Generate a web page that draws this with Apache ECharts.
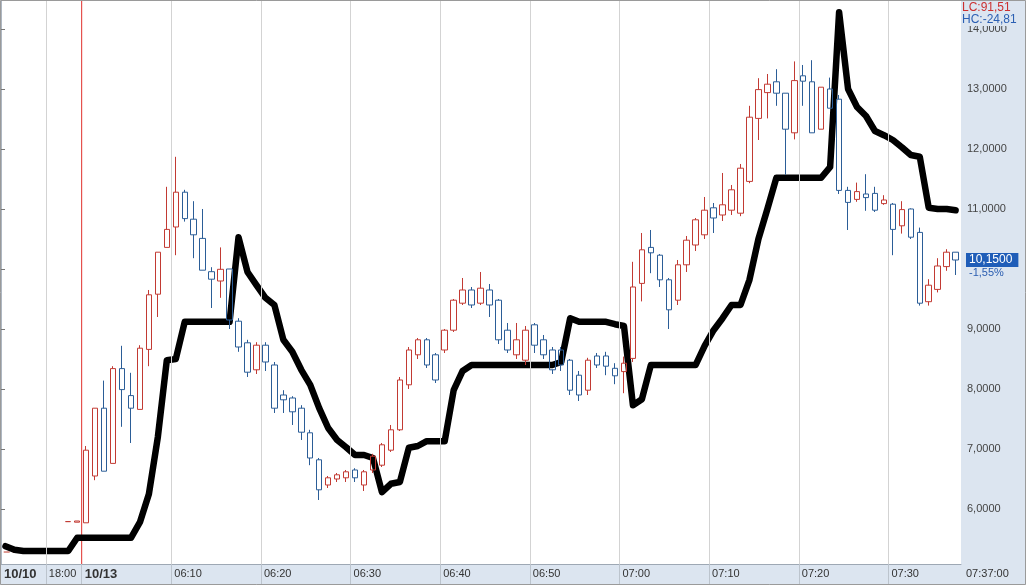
<!DOCTYPE html>
<html><head><meta charset="utf-8">
<script src="https://cdn.jsdelivr.net/npm/echarts@6/dist/echarts.min.js"></script>
<style>html,body{margin:0;padding:0;background:#fff}#c{width:1026px;height:585px}</style>
</head><body><div id="c"></div>
<script>
// ---- data ----
const xLabelSlots = [0, 5, 9, 19, 29, 39, 49, 59, 69, 79, 89, 99];
const xLabels = ['10/10', '18:00', '10/13', '06:10', '06:20', '06:30', '06:40', '06:50', '07:00', '07:10', '07:20', '07:30'];
const dateLabels = ['10/10', '10/13'];
const gridSlots = [5, 19, 29, 39, 49, 59, 69, 79, 89, 99];
const sessionBreakSlot = 9;
const yTicks = [6, 7, 8, 9, 10, 11, 12, 13, 14];
const yLabelValues = [6, 7, 8, 9, 11, 12, 13, 14];
const prevClose = 5.283;
const prevCloseFrom = 0.3, prevCloseTo = 7.0;
const lastPrice = 10.15;
const lastPriceText = '10,1500';
const changeText = '-1,55%';
const lcText = 'LC:91,51';
const hcText = 'HC:-24,81';
const timeText = '07:37:00';

const candleStartSlot = 7;
const opens = [5.79, 5.78,
 5.77, 6.55, 7.68, 6.76, 8.34, 7.89, 7.66, 8.66, 9.58, 10.36,
 10.70, 11.28, 10.83, 10.51, 9.955, 9.80, 10.0, 9.13, 8.77, 8.32,
 8.73, 8.40, 7.90, 7.85, 7.68, 7.27, 6.82, 6.40, 6.50, 6.52,
 6.65, 6.40, 6.65, 6.73, 6.98, 7.32, 8.07, 8.57, 8.82, 8.57,
 8.65, 8.98, 9.43, 9.65, 9.43, 9.65, 9.48, 8.98, 8.57, 8.48,
 9.07, 8.82, 8.65, 8.65, 8.48, 8.23, 7.98, 8.55, 8.55, 8.345,
 8.29, 8.51, 9.76, 10.36, 10.23, 9.82, 9.48, 10.07, 10.40, 10.57,
 11.02, 10.90, 10.98, 10.93, 11.46, 12.51, 12.94, 13.12, 12.93, 12.27,
 13.22, 13.12, 12.33, 13.00, 12.83, 11.31, 11.16, 11.25, 11.26, 11.09,
 11.08, 10.72, 11.00, 10.61, 9.455, 9.66, 10.04, 10.28];
const closes = [5.79, 5.80,
 6.98, 7.68, 6.63, 8.34, 7.99, 7.68, 8.68, 9.57, 10.28, 10.66,
 11.28, 10.84, 10.57, 9.98, 9.83, 9.995, 9.15, 8.70, 8.28, 8.73,
 8.45, 7.68, 7.82, 7.62, 7.28, 6.85, 6.32, 6.52, 6.57, 6.62,
 6.52, 6.62, 6.88, 7.07, 7.32, 8.15, 8.65, 8.82, 8.40, 8.15,
 8.98, 9.48, 9.65, 9.40, 9.68, 9.40, 8.82, 8.65, 8.82, 8.98,
 8.73, 8.57, 8.32, 8.40, 7.98, 7.90, 8.48, 8.40, 8.38, 8.22,
 8.43, 9.70, 10.32, 10.27, 9.82, 9.32, 10.07, 10.48, 10.82, 10.98,
 10.85, 11.07, 11.32, 11.68, 12.53, 12.99, 13.08, 12.93, 12.33, 13.14,
 13.13, 12.27, 13.03, 12.68, 11.31, 11.11, 11.29, 11.19, 10.98, 11.15,
 10.66, 10.99, 10.53, 9.43, 9.73, 10.05, 10.28, 10.15];
const lows = [5.79, 5.78,
 5.77, 6.48, 6.63, 6.76, 7.37, 7.10, 7.66, 8.38, 9.20, 10.36,
 10.23, 10.79, 10.18, 9.98, 9.35, 9.52, 9.00, 8.62, 8.20, 8.25,
 8.30, 7.60, 7.60, 7.40, 7.15, 6.73, 6.15, 6.35, 6.45, 6.45,
 6.45, 6.30, 6.60, 6.70, 6.95, 7.30, 8.00, 8.50, 8.35, 8.10,
 8.60, 8.95, 9.40, 9.35, 9.40, 9.20, 8.75, 8.60, 8.50, 8.40,
 8.60, 8.50, 8.25, 8.30, 7.90, 7.80, 7.90, 8.35, 8.23, 8.08,
 7.93, 8.45, 9.46, 9.93, 9.70, 9.00, 9.40, 9.95, 10.30, 10.50,
 10.60, 10.80, 10.90, 10.88, 11.43, 12.15, 12.51, 12.72, 11.57, 12.16,
 12.72, 12.27, 12.33, 12.68, 11.25, 10.65, 11.12, 10.97, 10.95, 11.07,
 10.23, 10.59, 10.50, 9.39, 9.39, 9.61, 9.97, 9.90];
const highs = [5.79, 5.80,
 7.05, 7.68, 8.14, 8.38, 8.72, 8.27, 8.73, 9.65, 10.28, 11.37,
 11.87, 11.32, 11.13, 11.00, 10.03, 10.36, 10.00, 9.18, 8.82, 8.78,
 8.78, 8.45, 7.98, 7.88, 7.73, 7.32, 6.85, 6.55, 6.60, 6.65,
 6.68, 6.65, 6.92, 7.10, 7.40, 8.20, 8.70, 8.85, 8.85, 8.60,
 9.00, 9.50, 9.85, 9.70, 9.95, 9.75, 9.50, 9.10, 9.10, 9.05,
 9.10, 8.90, 8.70, 8.70, 8.50, 8.30, 8.52, 8.60, 8.62, 8.43,
 8.54, 10.12, 10.60, 10.65, 10.25, 9.85, 10.15, 10.55, 10.85, 11.20,
 11.10, 11.60, 11.40, 11.75, 12.72, 13.18, 13.25, 13.33, 12.93, 13.46,
 13.40, 13.48, 13.03, 13.19, 12.90, 11.37, 11.44, 11.58, 11.37, 11.23,
 11.10, 11.13, 11.01, 10.69, 9.83, 10.18, 10.33, 10.28];
// thick black indicator line, one value per slot from slot 0
const blackLine = [5.38, 5.32, 5.30, 5.30, 5.30, 5.30, 5.30, 5.30, 5.52,
 5.52, 5.52, 5.52, 5.52, 5.52, 5.52,
 5.78, 6.25, 7.2, 8.48, 8.5, 9.12, 9.12, 9.12, 9.12, 9.12, 9.12,
 10.53, 9.95, 9.73, 9.52, 9.4, 8.82, 8.62, 8.32, 8.07, 7.68, 7.35, 7.15, 7.03, 6.9, 6.9, 6.85, 6.28, 6.42, 6.45, 7.02, 7.05, 7.13, 7.13, 7.13, 7.98, 8.3,
 8.4, 8.4, 8.4, 8.4, 8.4, 8.4, 8.4, 8.4, 8.4, 8.4,
 8.45, 9.18, 9.12, 9.12, 9.12, 9.12, 9.08, 9.05, 7.73, 7.83, 8.4,
 8.4, 8.4, 8.4, 8.4, 8.4,
 8.72, 8.98, 9.18, 9.4, 9.4, 9.82, 10.5, 11.0, 11.52,
 11.52, 11.52, 11.52, 11.52, 11.52,
 11.7, 14.28, 13.0, 12.7, 12.55, 12.3, 12.23, 12.15, 12.03, 11.9, 11.87, 11.02, 11.0, 11.0, 10.98];

// ---- build ----
const yMin = 5.0833, yMax = 14.4833;
const xMin = 0, xMax = 107.1;
const fmt4 = v => v.toFixed(4).replace('.', ',');
const candleData = opens.map((o, i) => [candleStartSlot + i + 0.5, o, closes[i], lows[i], highs[i]]);
const lineData = blackLine.map((v, i) => [i + 0.5, v]);
const band = '#dce5f0';
const FONT = 'Liberation Sans, Arial, sans-serif';
const chart = echarts.init(document.getElementById('c'));
chart.setOption({
  animation: false,
  backgroundColor: band,
  grid: { left: 1, right: 65, top: 0, bottom: 21, show: true, backgroundColor: '#ffffff', borderWidth: 0 },
  xAxis: {
    type: 'value', min: xMin, max: xMax,
    axisLine: { show: true, lineStyle: { color: '#9ea8b4', width: 1 } },
    splitLine: { show: false },
    axisTick: { show: true, customValues: [5, 9].concat(gridSlots.slice(1)), inside: false, length: 21, lineStyle: { color: '#bcc4cd' } },
    axisLabel: {
      customValues: xLabelSlots, align: 'left', margin: 4, padding: [0, 0, 0, 3],
      color: '#333', fontFamily: FONT, fontSize: 11,
      formatter: v => { const t = xLabels[xLabelSlots.indexOf(v)]; return dateLabels.includes(t) ? '{b|' + t + '}' : t; },
      rich: { b: { fontWeight: 'bold', fontSize: 13, color: '#333', fontFamily: FONT } }
    }
  },
  yAxis: [{
    type: 'value', position: 'right', min: yMin, max: yMax, scale: true,
    axisLine: { show: true, lineStyle: { color: '#aeb7c2' } },
    splitLine: { show: false },
    axisTick: { show: true, customValues: yTicks, inside: false, length: 4, lineStyle: { color: '#777' } },
    axisLabel: { customValues: yLabelValues, formatter: v => fmt4(v), margin: 6, color: '#444', fontSize: 11, fontFamily: FONT }
  }, {
    type: 'value', position: 'right', min: yMin, max: yMax,
    axisLine: { show: false }, splitLine: { show: false }, axisTick: { show: false },
    axisLabel: { customValues: [lastPrice], formatter: () => lastPriceText, margin: 5, color: '#fff', backgroundColor: '#1f5db8', padding: [1, 6, 1, 3], fontSize: 12, fontFamily: FONT }
  }, {
    type: 'value', position: 'right', min: yMin, max: yMax,
    axisLine: { show: false }, splitLine: { show: false }, axisTick: { show: false },
    axisLabel: { customValues: [lastPrice], formatter: () => changeText, margin: 8, verticalAlign: 'top', padding: [7, 0, 0, 0], color: '#2a5db0', fontSize: 11, fontFamily: FONT }
  }],
  series: [{
    type: 'line', data: [[prevCloseFrom, prevClose], [prevCloseTo, prevClose]], symbol: 'none', silent: true, z: 1,
    lineStyle: { color: '#c0392b', width: 1, type: [6, 3] }
  }, {
    type: 'line', data: [], symbol: 'none', silent: true, z: 0, color: '#d3d3d3',
    markLine: {
      silent: true, symbol: 'none', label: { show: false }, animation: false,
      lineStyle: { color: '#d3d3d3', width: 1, type: 'solid' },
      data: gridSlots.map(s => ({ xAxis: s }))
    }
  }, {
    type: 'line', data: [[sessionBreakSlot, yMin], [sessionBreakSlot, yMax]], symbol: 'none', silent: true, z: 1,
    lineStyle: { color: '#e0302c', width: 1, type: 'solid' }
  }, {
    type: 'line', data: lineData, symbol: 'none', showSymbol: false, silent: true, z: 2,
    lineStyle: { color: '#000', width: 6.5, join: 'round', cap: 'round' }
  }, {
    type: 'candlestick', data: candleData, barWidth: 6, z: 3,
    itemStyle: { color: 'rgba(0,0,0,0)', color0: 'rgba(0,0,0,0)', borderColor: '#c23a33', borderColor0: '#2b5d97', borderColorDoji: '#c23a33', borderWidth: 1 }
  }],
  graphic: [
    { type: 'text', left: 962, top: 2, style: { text: lcText, fill: '#cc2f2f', fontSize: 12, fontFamily: FONT }, z: 100 },
    { type: 'text', left: 962, top: 14, style: { text: hcText, fill: '#2b5fb3', fontSize: 12, fontFamily: FONT, backgroundColor: band }, z: 100 },
    { type: 'text', left: 966, top: 568, style: { text: timeText, fill: '#333', fontSize: 11, fontFamily: FONT }, z: 100 },
    { type: 'rect', shape: { x: 0.5, y: 0.5, width: 1025, height: 584 }, style: { fill: 'none', stroke: '#9a9a9a', lineWidth: 1 }, z: 100, silent: true }
  ]
});
</script></body></html>
